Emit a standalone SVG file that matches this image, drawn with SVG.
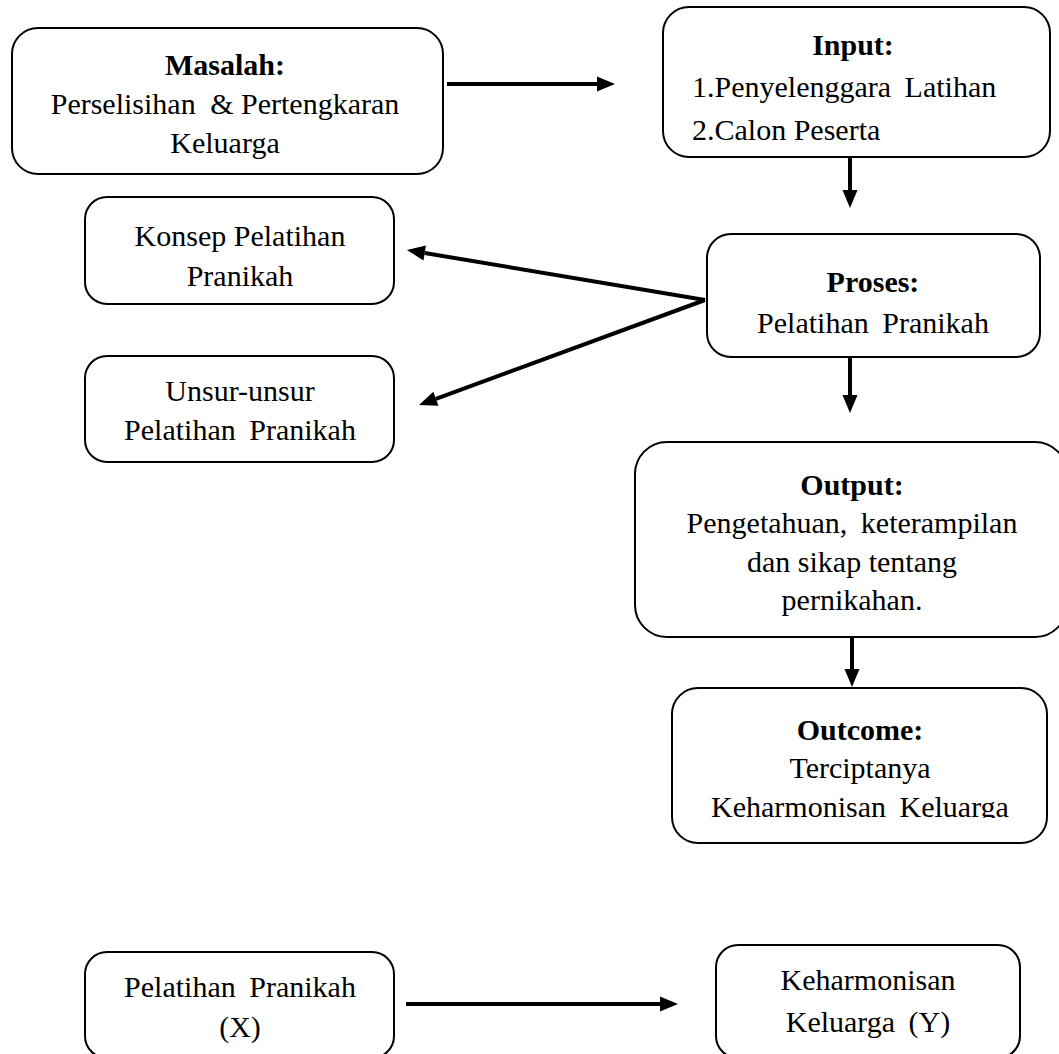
<svg xmlns="http://www.w3.org/2000/svg" width="1059" height="1054" viewBox="0 0 1059 1054">
<style>
.box{fill:#fff;stroke:#000;stroke-width:2}
.t{font-family:"Liberation Serif","Times New Roman",serif;font-size:30px;fill:#000}
.c{text-anchor:middle}
.b{font-weight:bold}
.w{word-spacing:6px}
.conn line{stroke:#000;stroke-width:4}
</style>
<defs>
<marker id="ah" markerUnits="userSpaceOnUse" markerWidth="18" markerHeight="15" refX="0" refY="7.5" orient="auto" overflow="visible">
<path d="M0,0 L18,7.5 L0,15 z" fill="#000"/>
</marker>
<clipPath id="oc"><rect x="660" y="680" width="400" height="138"/></clipPath>
</defs>
<rect width="1059" height="1054" fill="#fff"/>

<g id="masalah">
<rect class="box" x="12" y="28" width="431" height="146" rx="26"/>
<text class="t c b" x="225" y="75">Masalah:</text>
<text class="t c" x="225" y="114">Perselisihan<tspan dx="7"> &amp;</tspan> Pertengkaran</text>
<text class="t c" x="225" y="153">Keluarga</text>
</g>

<g id="input">
<rect class="box" x="663" y="7" width="387" height="150" rx="26"/>
<text class="t c b" x="853" y="55">Input:</text>
<text class="t w" x="692" y="97">1.Penyelenggara Latihan</text>
<text class="t" x="692" y="140">2.Calon Peserta</text>
</g>

<g id="konsep">
<rect class="box" x="85" y="197" width="309" height="107" rx="22"/>
<text class="t c" x="240" y="246">Konsep Pelatihan</text>
<text class="t c" x="240" y="286">Pranikah</text>
</g>

<g id="unsur">
<rect class="box" x="85" y="356" width="309" height="106" rx="22"/>
<text class="t c" x="240" y="401">Unsur-unsur</text>
<text class="t c w" x="240" y="440">Pelatihan Pranikah</text>
</g>

<g id="proses">
<rect class="box" x="707" y="234" width="333" height="123" rx="24"/>
<text class="t c b" x="873" y="292">Proses:</text>
<text class="t c w" x="873" y="333">Pelatihan Pranikah</text>
</g>

<g id="output">
<rect class="box" x="635" y="442" width="432" height="195" rx="32"/>
<text class="t c b" x="852" y="495">Output:</text>
<text class="t c w" x="852" y="533">Pengetahuan, keterampilan</text>
<text class="t c" x="852" y="572">dan sikap tentang</text>
<text class="t c" x="852" y="610">pernikahan.</text>
</g>

<g id="outcome">
<rect class="box" x="672" y="688" width="375" height="155" rx="26"/>
<g clip-path="url(#oc)">
<text class="t c b" x="860" y="740">Outcome:</text>
<text class="t c" x="860" y="778">Terciptanya</text>
<text class="t c w" x="860" y="817">Keharmonisan Keluarga</text>
</g>
</g>

<g id="x">
<rect class="box" x="85" y="952" width="309" height="106" rx="22"/>
<text class="t c w" x="240" y="997">Pelatihan Pranikah</text>
<text class="t c" x="240" y="1037">(X)</text>
</g>

<g id="y">
<rect class="box" x="716" y="945" width="304" height="113" rx="22"/>
<text class="t c" x="868" y="990">Keharmonisan</text>
<text class="t c w" x="868" y="1032">Keluarga (Y)</text>
</g>

<g id="connectors" class="conn">
<line x1="447" y1="84" x2="597" y2="84" marker-end="url(#ah)"/>
<line x1="850" y1="157" x2="850" y2="190" marker-end="url(#ah)"/>
<line x1="705" y1="300" x2="424.7" y2="253" marker-end="url(#ah)"/>
<line x1="705" y1="300" x2="435.9" y2="398.8" marker-end="url(#ah)"/>
<line x1="850" y1="357" x2="850" y2="395" marker-end="url(#ah)"/>
<line x1="852" y1="637" x2="852" y2="669" marker-end="url(#ah)"/>
<line x1="406" y1="1004" x2="660" y2="1004" marker-end="url(#ah)"/>
</g>
</svg>
